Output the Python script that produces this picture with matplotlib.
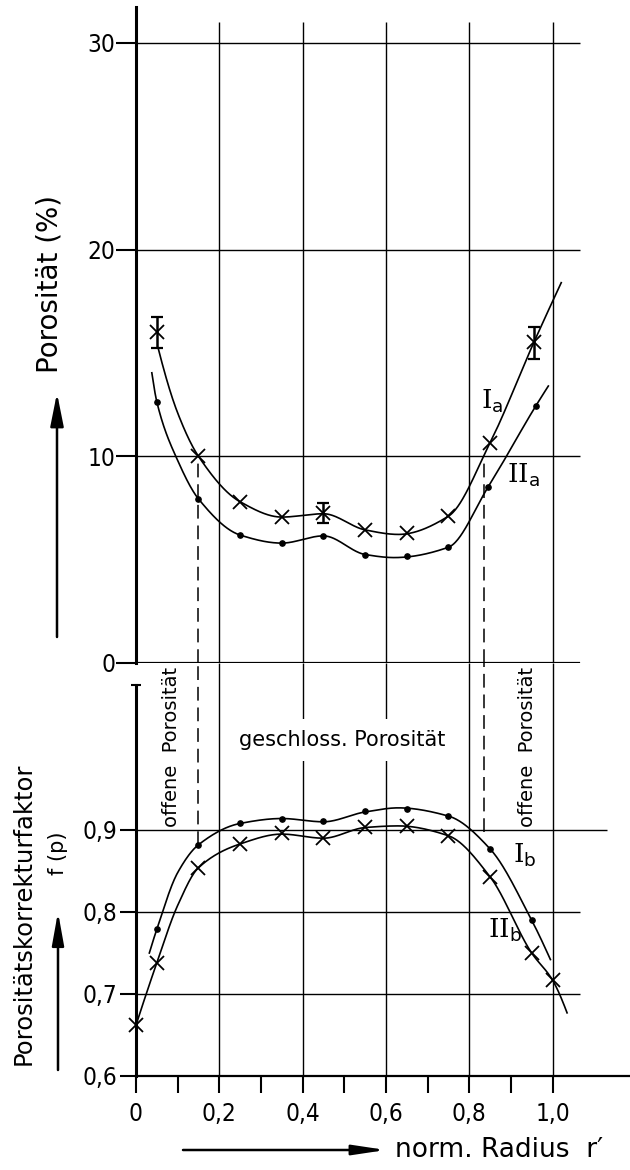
import numpy as np
import matplotlib
matplotlib.use("Agg")
import matplotlib.pyplot as plt
from matplotlib import font_manager as fm
from matplotlib.patches import FancyArrowPatch

# ---------------- data ----------------
# upper panel: porosity (%)
r_Ia = [0.05, 0.15, 0.25, 0.35, 0.45, 0.55, 0.65, 0.75, 0.85, 0.955]
p_Ia = [16.0, 10.0, 7.8, 7.06, 7.25, 6.44, 6.3, 7.1, 10.65, 15.55]
r_IIa = [0.05, 0.15, 0.25, 0.35, 0.45, 0.55, 0.65, 0.75, 0.845, 0.96]
p_IIa = [12.63, 7.94, 6.19, 5.8, 6.15, 5.23, 5.18, 5.6, 8.5, 12.44]
# error bars on I_a
r_err = [0.05, 0.45, 0.955]
p_err = [16.0, 7.25, 15.55]
p_err_lo = [15.25, 6.77, 14.7]
p_err_hi = [16.75, 7.74, 16.27]
# drawn fit curves (knots)
curve_r_Ia = [0.053, 0.10, 0.15, 0.25, 0.35, 0.45, 0.55, 0.63, 0.75, 0.85, 0.955, 1.021]
curve_p_Ia = [15.25, 12.1, 10.0, 7.8, 7.06, 7.22, 6.44, 6.22, 7.1, 10.65, 15.5, 18.4]
curve_r_IIa = [0.038, 0.05, 0.10, 0.15, 0.25, 0.35, 0.45, 0.55, 0.62, 0.75, 0.845, 0.96, 0.99]
curve_p_IIa = [14.04, 12.63, 9.8, 7.94, 6.19, 5.8, 6.15, 5.25, 5.1, 5.6, 8.5, 12.44, 13.4]

# lower panel: porosity correction factor f(p)
r_Ib = [0.05, 0.15, 0.25, 0.35, 0.45, 0.55, 0.65, 0.75, 0.85, 0.95]
f_Ib = [0.779, 0.882, 0.908, 0.914, 0.911, 0.923, 0.925, 0.917, 0.877, 0.790]
r_IIb = [0.0, 0.05, 0.15, 0.25, 0.35, 0.45, 0.55, 0.65, 0.75, 0.85, 0.95, 1.0]
f_IIb = [0.662, 0.738, 0.854, 0.883, 0.896, 0.890, 0.904, 0.905, 0.893, 0.843, 0.750, 0.717]
curve_r_Ib = [0.032, 0.05, 0.10, 0.15, 0.25, 0.35, 0.45, 0.55, 0.63, 0.75, 0.85, 0.95, 0.995]
curve_f_Ib = [0.750, 0.779, 0.848, 0.882, 0.908, 0.914, 0.910, 0.922, 0.927, 0.917, 0.877, 0.790, 0.742]
curve_r_IIb = [0.0, 0.05, 0.10, 0.15, 0.25, 0.35, 0.45, 0.55, 0.63, 0.75, 0.85, 0.95, 1.0, 1.035]
curve_f_IIb = [0.662, 0.738, 0.808, 0.854, 0.883, 0.895, 0.890, 0.903, 0.905, 0.893, 0.843, 0.750, 0.717, 0.677]

# boundaries open / closed porosity
r_bound = [0.15, 0.836]
p_bound_top = [10.0, 9.92]
f_bound_bottom = [0.882, 0.897]

top_ticks = [0, 10, 20, 30]
top_ticklabels = ["0", "10", "20", "30"]
bot_ticks = [0.6, 0.7, 0.8, 0.9]
bot_ticklabels = ["0,6", "0,7", "0,8", "0,9"]
x_ticks = [0.0, 0.2, 0.4, 0.6, 0.8, 1.0]
x_ticklabels = ["0", "0,2", "0,4", "0,6", "0,8", "1,0"]
x_minor = [0.1, 0.3, 0.5, 0.7, 0.9]
grid_x = [0.2, 0.4, 0.6, 0.8, 1.0]


def smooth(xk, yk, n=500):
    """shape-preserving cubic (PCHIP) used to draw the hand-drawn fit curves"""
    x = np.asarray(xk, float)
    y = np.asarray(yk, float)
    h = np.diff(x)
    d = np.diff(y) / h
    m = np.zeros_like(y)
    for k in range(1, len(x) - 1):
        if d[k - 1] * d[k] > 0:
            w1 = 2 * h[k] + h[k - 1]
            w2 = h[k] + 2 * h[k - 1]
            m[k] = (w1 + w2) / (w1 / d[k - 1] + w2 / d[k])
        else:
            m[k] = 0.0

    def endslope(h0, h1, d0, d1):
        s = ((2 * h0 + h1) * d0 - h0 * d1) / (h0 + h1)
        if np.sign(s) != np.sign(d0):
            s = 0.0
        elif np.sign(d0) != np.sign(d1) and abs(s) > abs(3 * d0):
            s = 3 * d0
        return s

    m[0] = endslope(h[0], h[1], d[0], d[1])
    m[-1] = endslope(h[-1], h[-2], d[-1], d[-2])
    xs = np.linspace(x[0], x[-1], n)
    idx = np.clip(np.searchsorted(x, xs) - 1, 0, len(x) - 2)
    t = (xs - x[idx]) / h[idx]
    h00 = 2 * t ** 3 - 3 * t ** 2 + 1
    h10 = t ** 3 - 2 * t ** 2 + t
    h01 = -2 * t ** 3 + 3 * t ** 2
    h11 = t ** 3 - t ** 2
    ys = h00 * y[idx] + h10 * h[idx] * m[idx] + h01 * y[idx + 1] + h11 * h[idx] * m[idx + 1]
    return xs, ys


# ---------------- fonts ----------------
def _tick_font():
    entries = fm.fontManager.ttflist
    for want in ("Liberation Sans Narrow", "DejaVu Sans Condensed"):
        for f in entries:
            if f.name == want:
                return fm.FontProperties(fname=f.fname), 18
    for f in entries:
        if f.name == "DejaVu Sans" and str(f.stretch) in ("condensed", "semi-condensed", "75", "87") \
                and f.weight in ("normal", 400) and f.style == "normal":
            return fm.FontProperties(fname=f.fname), 17.5
    return fm.FontProperties(family="Liberation Sans"), 16


TICKFP, TICKSIZE = _tick_font()
TICKFP.set_size(TICKSIZE)
plt.rcParams["font.family"] = ["DejaVu Sans"]
plt.rcParams["mathtext.fontset"] = "dejavuserif"

W, H = 630, 1170
fig = plt.figure(figsize=(W / 100, H / 100), dpi=100)

X0 = 136.0          # pixel of r'=0
PXU = 416.5         # pixels per unit r'
XMAX = (W - X0) / PXU
left = X0 / W
width = 1 - left

ax_t = fig.add_axes([left, 1 - 663 / H, width, (663 - 7) / H])
ax_b = fig.add_axes([left, 1 - 1076 / H, width, (1076 - 663) / H])

TOP_MAX = (663 - 7) / 20.67
BOT_MAX = 0.6 + (1076 - 663) / 820.0
GRID_END = 1.067
LW_GRID = 1.0
LW_CURVE = 1.2

for ax in (ax_t, ax_b):
    ax.set_xlim(0, XMAX)
    ax.set_facecolor("none")
    for s in ("top", "right"):
        ax.spines[s].set_visible(False)
    ax.spines["left"].set_linewidth(2.2)

# ---- top panel ----
ax_t.set_ylim(0, TOP_MAX)
ax_t.spines["bottom"].set_visible(False)
ax_t.set_xticks([])
ax_t.set_yticks(top_ticks)
ax_t.set_yticklabels(top_ticklabels, fontproperties=TICKFP)
ax_t.tick_params(axis="y", direction="out", length=14.5, width=1.5, pad=0.5)
ax_t.hlines(top_ticks, 0, GRID_END, color="k", lw=LW_GRID, zorder=1)
ax_t.hlines([0], 0, GRID_END, color="k", lw=1.6, zorder=1)
ax_t.vlines(grid_x, 0, 31.0, color="k", lw=LW_GRID, zorder=1)

xs, ys = smooth(curve_r_Ia, curve_p_Ia)
ax_t.plot(xs, ys, color="k", lw=LW_CURVE, zorder=3, clip_on=False)
xs, ys = smooth(curve_r_IIa, curve_p_IIa)
ax_t.plot(xs, ys, color="k", lw=LW_CURVE, zorder=3, clip_on=False)
ax_t.plot(r_Ia, p_Ia, ls="none", marker="x", ms=9.5, mew=1.3, color="k", zorder=4)
ax_t.plot(r_IIa, p_IIa, ls="none", marker="o", ms=3.8, color="k", zorder=4)
yerr = [np.subtract(p_err, p_err_lo), np.subtract(p_err_hi, p_err)]
ax_t.errorbar(r_err, p_err, yerr=yerr, fmt="none", ecolor="k", elinewidth=1.8,
              capsize=4.3, capthick=1.6, zorder=4)
for rb, pt in zip(r_bound, p_bound_top):
    ax_t.vlines(rb, 0, pt, color="k", lw=1.1, linestyles=(0, (9, 4.5)), zorder=2)

ax_t.text(0.855, 12.68, r"$\mathrm{I}_{\mathsf{a}}$", fontsize=19, ha="center", va="center")
ax_t.text(0.929, 9.1, r"$\mathrm{II}_{\mathsf{a}}$", fontsize=19, ha="center", va="center")

# ---- bottom panel ----
ax_b.set_ylim(0.6, BOT_MAX)
ax_b.spines["left"].set_bounds(0.6, 1.0768)
ax_b.spines["bottom"].set_linewidth(1.6)
ax_b.set_yticks(bot_ticks)
ax_b.set_yticklabels(bot_ticklabels, fontproperties=TICKFP)
ax_b.set_yticks([1.0768], minor=True)
ax_b.tick_params(axis="y", which="major", direction="out", length=11.5, width=1.5, pad=2)
ax_b.tick_params(axis="y", which="minor", direction="inout", length=7, width=1.5)
ax_b.set_xticks(x_ticks)
ax_b.set_xticklabels(x_ticklabels, fontproperties=TICKFP)
ax_b.set_xticks(x_minor, minor=True)
ax_b.tick_params(axis="x", which="both", direction="out", length=12, width=1.5, pad=7)
ax_b.hlines([0.7, 0.8], 0, GRID_END, color="k", lw=LW_GRID, zorder=1)
ax_b.hlines([0.9], 0, 1.13, color="k", lw=LW_GRID, zorder=1)
ax_b.vlines(grid_x, 0.6, BOT_MAX, color="k", lw=LW_GRID, zorder=1)

xs, ys = smooth(curve_r_Ib, curve_f_Ib)
ax_b.plot(xs, ys, color="k", lw=LW_CURVE, zorder=3, clip_on=False)
xs, ys = smooth(curve_r_IIb, curve_f_IIb)
ax_b.plot(xs, ys, color="k", lw=LW_CURVE, zorder=3, clip_on=False)
ax_b.plot(r_Ib, f_Ib, ls="none", marker="o", ms=3.8, color="k", zorder=4)
ax_b.plot(r_IIb, f_IIb, ls="none", marker="x", ms=9.5, mew=1.3, color="k", zorder=4, clip_on=False)
for rb, fb in zip(r_bound, f_bound_bottom):
    ax_b.vlines(rb, fb, BOT_MAX, color="k", lw=1.1, linestyles=(0, (9, 4.5)), zorder=2)

ax_b.text(0.934, 0.8695, r"$\mathrm{I}_{\mathsf{b}}$", fontsize=19, ha="center", va="center")
ax_b.text(0.886, 0.778, r"$\mathrm{II}_{\mathsf{b}}$", fontsize=19, ha="center", va="center")

ax_b.text(0.496, 1.0098, "geschloss. Porosität", fontsize=15, ha="center", va="center", zorder=5,
          bbox=dict(boxstyle="square,pad=0.55", fc="white", ec="none"))
ax_b.text(0.0864, 1.001, "offene  Porosität", fontsize=14, rotation=90, ha="center", va="center", zorder=5)
ax_b.text(0.941, 1.001, "offene  Porosität", fontsize=14, rotation=90, ha="center", va="center", zorder=5)


# ---- axis labels with arrows (figure pixel positions) ----
def fx(px):
    return px / W


def fy(py):
    return 1 - py / H


fig.text(fx(50), fy(284), "Porosität (%)", fontsize=20, rotation=90, ha="center", va="center")
fig.text(fx(24), fy(914), "Porositätskorrekturfaktor", fontsize=17.5, rotation=90, ha="center", va="center")
fig.text(fx(58), fy(853), "f (p)", fontsize=15, rotation=90, ha="center", va="center")
fig.text(fx(395), fy(1150), "norm. Radius  r′", fontsize=19, ha="left", va="center")

for (x1, y1), (x2, y2), hw in [((57, 637), (57, 393), 4.0),
                                ((58, 1070), (58, 912), 3.6),
                                ((183, 1150), (386, 1150), 3.0)]:
    fig.add_artist(FancyArrowPatch((fx(x1), fy(y1)), (fx(x2), fy(y2)), transform=fig.transFigure,
                                   arrowstyle=f"-|>,head_length=20,head_width={hw}",
                                   mutation_scale=1, lw=1.8, color="k", shrinkA=0, shrinkB=0))

fig.savefig("out.png", dpi=100, facecolor="white")
